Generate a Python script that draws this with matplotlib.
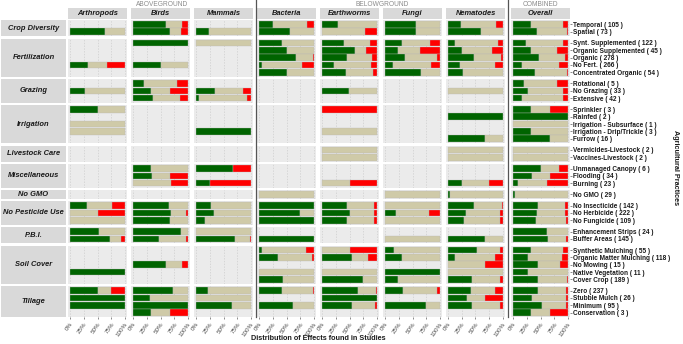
import numpy as np
import matplotlib.pyplot as plt

plt.rcParams['font.family'] = ['Liberation Sans', 'DejaVu Sans']

groups = ['Crop Diversity', 'Fertilization', 'Grazing', 'Irrigation', 'Livestock Care',
          'Miscellaneous', 'No GMO', 'No Pesticide Use', 'P.B.I.', 'Soil Cover', 'Tillage']
group_sizes = [2, 5, 3, 5, 2, 3, 1, 3, 2, 5, 4]

practices = ['Temporal', 'Spatial',
             'Synt. Supplemented', 'Organic Supplemented', 'Organic', 'No Fert.', 'Concentrated Organic',
             'Rotational', 'No Grazing', 'Extensive',
             'Sprinkler', 'Rainfed', 'Irrigation - Subsurface', 'Irrigation - Drip/Trickle', 'Furrow',
             'Vermicides-Livestock', 'Vaccines-Livestock',
             'Unmanaged Canopy', 'Flooding', 'Burning',
             'No GMO',
             'No Insecticide', 'No Herbicide', 'No Fungicide',
             'Enhancement Strips', 'Buffer Areas',
             'Synthetic Mulching', 'Organic Matter Mulching', 'No Mowing', 'Native Vegetation', 'Cover Crop',
             'Zero', 'Stubble Mulch', 'Minimum', 'Conservation']
n_studies = [105, 73, 122, 45, 278, 266, 54, 5, 33, 42, 3, 2, 1, 3, 16, 2, 2, 6, 34, 23, 29,
             142, 222, 109, 24, 145, 55, 118, 15, 11, 189, 237, 26, 95, 3]

taxa = ['Arthropods', 'Birds', 'Mammals', 'Bacteria', 'Earthworms', 'Fungi', 'Nematodes', 'Overall']

# (positive, neutral, negative) shares per practice, None = no studies
arthropods = [None, (0.64, 0.36, 0),
              None, None, None, (0.33, 0.34, 0.33), None,
              None, (0.28, 0.72, 0), None,
              (0.5, 0.5, 0), None, (0, 1, 0), (0, 1, 0), None,
              None, None,
              None, None, None,
              None,
              (0.3, 0.47, 0.23), (0, 0.5, 0.5), (0, 1, 0),
              (0.53, 0.47, 0), (0.73, 0.2, 0.07),
              None, None, None, (1, 0, 0), None,
              (0.5, 0.25, 0.25), (1, 0, 0), (1, 0, 0), None]
birds = [(0.6, 0.3, 0.1), (0.67, 0.21, 0.12),
         (1, 0, 0), None, None, (0.5, 0.5, 0), None,
         (0.2, 0.6, 0.2), (0.33, 0.34, 0.33), (0.36, 0.5, 0.14),
         None, None, None, None, None,
         None, None,
         (0.33, 0.67, 0), (0.35, 0.33, 0.32), (0, 0.69, 0.31),
         None,
         (0.65, 0.35, 0), (0.69, 0.27, 0.04), (0.67, 0.33, 0),
         (0.87, 0.13, 0), (0.48, 0.48, 0.04),
         None, None, (0.6, 0.3, 0.1), None, None,
         (0.73, 0.27, 0), (0.3, 0.7, 0), (1, 0, 0), (0.33, 0.35, 0.32)]
mammals = [None, (0.24, 0.76, 0),
           (0, 1, 0), None, None, None, None,
           None, (0.35, 0.51, 0.14), (0.06, 0.87, 0.07),
           None, None, None, (1, 0, 0), None,
           None, None,
           (0.67, 0, 0.33), None, (0.25, 0, 0.75),
           None,
           (0.28, 0.72, 0), (0.33, 0.67, 0), (0.16, 0.84, 0),
           (0, 1, 0), (0.71, 0.27, 0.02),
           None, None, None, None, None,
           (0.21, 0.79, 0), (0, 1, 0), (0.66, 0.34, 0), None]
bacteria = [(0.25, 0.63, 0.12), (0.56, 0.44, 0),
            (0.41, 0.59, 0), (0.5, 0.5, 0), (0.68, 0.3, 0.02), (0.06, 0.73, 0.21), (0.5, 0.5, 0),
            None, None, None,
            None, None, None, None, None,
            None, None,
            None, None, None,
            (0, 1, 0),
            (1, 0, 0), (0.75, 0.25, 0), (1, 0, 0),
            None, (1, 0, 0),
            (0.06, 0.8, 0.14), (0.35, 0.61, 0.04), None, (0, 1, 0), (0.44, 0.56, 0),
            (0.41, 0.57, 0.02), None, (0.62, 0.38, 0), None]
earthworms = [(0.29, 0.71, 0), (0, 0.79, 0.21),
              (0.4, 0.48, 0.12), (0.6, 0.2, 0.2), (0.46, 0.45, 0.09), (0.22, 0.68, 0.1), (0.43, 0.5, 0.07),
              None, (0.49, 0.51, 0), None,
              (0, 0, 1), None, None, (0, 1, 0), None,
              (0, 1, 0), (0, 1, 0),
              None, None, (0, 0.5, 0.5),
              None,
              (0.45, 0.49, 0.06), (0.5, 0.45, 0.05), (0.45, 0.49, 0.06),
              None, None,
              (0, 0.5, 0.5), (0.55, 0.29, 0.16), None, (0, 1, 0), (0.75, 0.25, 0),
              (0.65, 0.33, 0.02), (1, 0, 0), (0.54, 0.43, 0.03), None]
fungi = [(0.57, 0.43, 0), (0.57, 0.43, 0),
         (0.31, 0.51, 0.18), (0.24, 0.39, 0.37), (0.36, 0.59, 0.05), (0.14, 0.7, 0.16), (0.66, 0.34, 0),
         None, None, None,
         None, None, None, None, None,
         None, None,
         None, None, None,
         (0, 1, 0),
         (0, 1, 0), (0.19, 0.61, 0.2), (0, 1, 0),
         None, (0, 1, 0),
         (0.16, 0.84, 0), (0.31, 0.69, 0), None, (1, 0, 0), (0.24, 0.76, 0),
         (0.32, 0.63, 0.05), None, (0.75, 0.25, 0), None]
nematodes = [(0.24, 0.63, 0.13), (0.6, 0.4, 0),
             (0.13, 0.78, 0.09), (0.25, 0.56, 0.19), (0.48, 0.48, 0.04), (0.22, 0.63, 0.15), (0.28, 0.72, 0),
             None, (0, 1, 0), None,
             None, (1, 0, 0), None, None, (0.68, 0.32, 0),
             (0, 1, 0), (0, 1, 0),
             None, None, (0.25, 0.5, 0.25),
             (0.04, 0.96, 0),
             (0.47, 0.51, 0.02), (0.32, 0.63, 0.05), (0.29, 0.65, 0.06),
             None, (0.67, 0.33, 0),
             (0.52, 0.42, 0.06), (0.13, 0.72, 0.15), (0, 0.67, 0.33), (0, 1, 0), (0.44, 0.51, 0.05),
             (0.41, 0.44, 0.15), (0.34, 0.34, 0.32), (0.43, 0.52, 0.05), None]
overall = [(0.32, 0.6, 0.08), (0.44, 0.54, 0.02),
           (0.24, 0.67, 0.09), (0.33, 0.47, 0.2), (0.48, 0.47, 0.05), (0.17, 0.67, 0.16), (0.4, 0.58, 0.02),
           (0.2, 0.6, 0.2), (0.27, 0.64, 0.09), (0.16, 0.75, 0.09),
           (0.33, 0.34, 0.33), (1, 0, 0), (0, 1, 0), (0.33, 0.67, 0), (0.68, 0.32, 0),
           (0, 1, 0), (0, 1, 0),
           (0.5, 0.33, 0.17), (0.35, 0.33, 0.32), (0.08, 0.53, 0.39),
           (0.035, 0.965, 0),
           (0.46, 0.49, 0.05), (0.43, 0.51, 0.06), (0.41, 0.56, 0.03),
           (0.62, 0.38, 0), (0.63, 0.34, 0.03),
           (0.32, 0.59, 0.09), (0.27, 0.62, 0.11), (0.46, 0.39, 0.15), (0.27, 0.73, 0), (0.46, 0.52, 0.02),
           (0.46, 0.5, 0.04), (0.34, 0.62, 0.04), (0.52, 0.45, 0.03), (0.33, 0.34, 0.33)]
all_data = [arthropods, birds, mammals, bacteria, earthworms, fungi, nematodes, overall]

colors = ['#006400', '#CFCAA8', '#FF0000']
tick_vals = [0, 0.25, 0.5, 0.75, 1.0]
tick_labels = ['0%', '25%', '50%', '75%', '100%']

W, H = 683, 344
fig = plt.figure(figsize=(W / 100, H / 100), dpi=100)

def px_axes(x0, y0, w, h):
    return fig.add_axes([x0 / W, 1 - (y0 + h) / H, w / W, h / H])

col_left = [68, 131, 194, 257, 320, 383, 446, 511]
col_w = 59
top, bottom, gap = 20, 317, 2.5
unit = (bottom - top - gap * (len(groups) - 1)) / (sum(group_sizes) + 0.2 * len(groups))

# column strips
for j, t in enumerate(taxa):
    sa = px_axes(col_left[j], 8, col_w, 11)
    sa.set_facecolor('#D9D9D9')
    sa.set_xticks([]); sa.set_yticks([])
    for s in sa.spines.values():
        s.set_visible(False)
    sa.text(0.5, 0.5, t, ha='center', va='center', fontsize=5.4, fontweight='bold',
            style='italic', color='#1A1A1A')

y = top
start = 0
for g, n in zip(groups, group_sizes):
    h = unit * (n + 0.2)
    la = px_axes(1, y, 65, h)
    la.set_facecolor('#D9D9D9')
    la.set_xticks([]); la.set_yticks([])
    for s in la.spines.values():
        s.set_visible(False)
    la.text(0.5, 0.5, g, ha='center', va='center', fontsize=5.4, fontweight='bold',
            style='italic', color='#1A1A1A')
    rows = np.arange(n)
    for j in range(len(taxa)):
        ax = px_axes(col_left[j], y, col_w, h)
        ax.set_facecolor('#EBEBEB')
        for s in ax.spines.values():
            s.set_visible(False)
        for tv in tick_vals:
            ax.axvline(tv, color='#CDCDCD', lw=0.5, ls=(0, (2, 2)), zorder=0)
        for r in rows:
            vals = all_data[j][start + r]
            if vals is None:
                continue
            left = 0
            for v, c in zip(vals, colors):
                if v > 0:
                    ax.barh(r, v, left=left, height=0.9, color=c, edgecolor='#B8B8B8',
                            linewidth=0.25, zorder=2)
                left += v
        ax.set_xlim(-0.04, 1.04)
        ax.set_ylim(n - 0.4, -0.6)
        ax.set_xticks(tick_vals)
        if g == groups[-1]:
            ax.set_xticklabels(tick_labels, rotation=55, ha='right', va='top',
                               rotation_mode='anchor', fontsize=4.5, color='#4D4D4D')
            ax.tick_params(axis='x', length=1.5, width=0.4, color='#333333', pad=1.5)
        else:
            ax.tick_params(axis='x', length=0, labelbottom=False)
        if j == len(taxa) - 1:
            ax.yaxis.tick_right()
            ax.set_yticks(rows)
            ax.set_yticklabels(['%s ( %d )' % (practices[start + r], n_studies[start + r]) for r in rows],
                               fontsize=4.7, fontweight='bold', color='#1A1A1A')
            ax.tick_params(axis='y', length=1.5, width=0.4, color='#333333', pad=1)
        else:
            ax.set_yticks([])
    y += h + gap
    start += n

# separators between taxon groups
for xs in [256, 508]:
    fig.add_artist(plt.Line2D([xs / W, xs / W], [1 - 317 / H, 1.0], color='#555555', lw=0.9))

fig.text(162 / W, 1 - 4 / H, 'ABOVEGROUND', ha='center', va='center', fontsize=4.8, color='#8C8C8C')
fig.text(382 / W, 1 - 4 / H, 'BELOWGROUND', ha='center', va='center', fontsize=4.8, color='#8C8C8C')
fig.text(540 / W, 1 - 4 / H, 'COMBINED', ha='center', va='center', fontsize=4.8, color='#8C8C8C')

fig.text(318 / W, 1 - 338 / H, 'Distribution of Effects found in Studies', ha='center', va='center',
         fontsize=5.2, fontweight='bold', color='#1A1A1A')
fig.text(675 / W, 1 - 168 / H, 'Agricultural Practices', ha='center', va='center', rotation=270,
         fontsize=5.2, fontweight='bold', color='#1A1A1A')

fig.savefig('out.png', dpi=100)
